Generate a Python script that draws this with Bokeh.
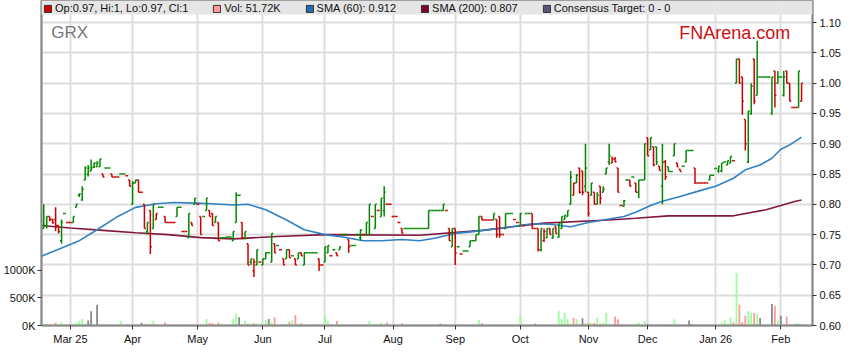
import pandas as pd
from bokeh.plotting import figure
from bokeh.models import (Range1d, LinearAxis, FixedTicker, NumeralTickFormatter,
                          BoxAnnotation, Legend, LegendItem, Label, ColumnDataSource)
from bokeh.embed import file_html
from bokeh.resources import INLINE

FONT = "Liberation Sans"
start_date = "2025-02-17"

opens = [
    .760, .760, .765, .780, .775, .775, .765, .740, .785, .770,
    .770, .770, .795, .815, .807, .840, .850, .855, .862, .862,
    .862, .850, .860, .860, .850, .845, .845, .850, .850, .847,
    .840, .800, .835, .840, .820, .800, .755, .790, .760, .775,
    .795, .795, .780, .770, .770, .770, .780, .795, .755, .755,
    .745, .770, .800, .800, .780, .780, .790, .790, .785, .770,
    .770, .745, .745, .746, .746, .740, .770, .815, .770, .745,
    .735, .705, .690, .700, .705, .700, .710, .720, .705, .735,
    .732, .725, .710, .710, .725, .715, .710, .710, .720, .700,
    .720, .720, .720, .720, .710, .700, .705, .720, .715, .725,
    .720, .725, .750, .750, .742, .732, .732, .750, .745, .750,
    .750, .750, .780, .760, .790, .780, .790, .800, .800, .780,
    .780, .770, .760, .760, .760, .760, .760, .760, .760, .760,
    .760, .760, .790, .790, .790, .790, .790, .790, .760, .730,
    .760, .730, .718, .723, .723, .730, .740, .740, .750, .780,
    .774, .774, .774, .774, .775, .780, .750, .760, .785, .785,
    .775, .770, .765, .765, .785, .785, .785, .760, .760, .725,
    .740, .745, .760, .745, .763, .746, .760, .775, .780, .800,
    .815, .835, .860, .855, .830, .820, .815, .820, .800, .830,
    .820, .850, .870, .868, .875, .860, .798, .797, .840, .840,
    .845, .835, .820, .840, .840, .910, .890, .895, .895, .863,
    .830, .870, .862, .854, .880, .868, .858, .863, .870, .889,
    .889, .860, .835, .835, .835, .835, .840, .848, .859, .855,
    .855, .870, .865, .868, .872, 1.000, 1.040, 1.010, .940, .870,
    .950, 1.040, .980, 1.010, 1.010, 1.010, 1.010, .950, 1.020, 1.000,
    1.010, .980, 1.020, 1.000, .960, .960, .960, .970,
]
highs = [
    .760, .800, .780, .780, .776, .795, .765, .775, .785, .770,
    .770, .780, .800, .818, .830, .863, .865, .874, .869, .871,
    .875, .850, .860, .860, .850, .845, .845, .850, .850, .847,
    .840, .838, .840, .840, .820, .800, .770, .790, .800, .785,
    .795, .795, .780, .770, .770, .770, .795, .795, .755, .755,
    .785, .770, .810, .800, .780, .780, .810, .790, .785, .780,
    .770, .745, .745, .746, .746, .755, .820, .815, .770, .755,
    .735, .710, .710, .725, .705, .710, .720, .720, .752, .735,
    .732, .725, .710, .725, .725, .715, .710, .720, .720, .720,
    .720, .720, .720, .720, .710, .700, .730, .732, .715, .725,
    .720, .730, .750, .750, .742, .732, .732, .750, .758, .750,
    .770, .800, .780, .800, .790, .810, .830, .800, .800, .780,
    .780, .770, .760, .760, .760, .760, .760, .760, .760, .760,
    .760, .790, .790, .790, .790, .790, .800, .790, .760, .760,
    .760, .730, .718, .723, .723, .740, .740, .750, .780, .780,
    .774, .774, .774, .785, .775, .780, .750, .785, .785, .785,
    .775, .770, .785, .765, .785, .785, .785, .760, .760, .760,
    .760, .760, .760, .760, .763, .768, .780, .782, .790, .855,
    .835, .850, .860, .855, .900, .820, .835, .820, .820, .830,
    .830, .860, .900, .879, .878, .860, .798, .807, .840, .840,
    .845, .835, .840, .840, .900, .910, .910, .895, .895, .863,
    .900, .873, .862, .854, .900, .868, .858, .863, .889, .889,
    .889, .860, .835, .835, .835, .835, .848, .848, .859, .863,
    .868, .870, .872, .879, .872, 1.040, 1.040, 1.010, .940, .954,
    1.000, 1.040, 1.070, 1.010, 1.010, 1.010, 1.010, 1.010, 1.020, 1.020,
    1.010, 1.020, 1.020, 1.000, .960, .960, 1.020, 1.000,
]
lows = [
    .760, .760, .760, .772, .768, .756, .752, .735, .785, .770,
    .770, .770, .795, .812, .806, .840, .846, .855, .860, .862,
    .862, .845, .860, .860, .845, .845, .845, .850, .850, .847,
    .830, .800, .835, .820, .820, .760, .750, .718, .760, .775,
    .795, .795, .770, .770, .770, .770, .780, .795, .755, .755,
    .745, .765, .800, .800, .750, .780, .790, .780, .765, .770,
    .740, .745, .745, .746, .746, .740, .770, .815, .742, .742,
    .700, .700, .680, .700, .705, .700, .710, .720, .705, .720,
    .732, .725, .700, .710, .712, .715, .700, .710, .715, .700,
    .720, .720, .720, .720, .690, .700, .705, .720, .715, .725,
    .715, .725, .750, .750, .720, .732, .732, .750, .740, .750,
    .750, .750, .780, .760, .790, .780, .780, .800, .800, .780,
    .780, .770, .752, .760, .760, .760, .760, .760, .760, .760,
    .760, .760, .790, .790, .790, .790, .790, .790, .740, .730,
    .700, .730, .718, .723, .723, .730, .740, .740, .750, .774,
    .774, .774, .774, .774, .745, .745, .750, .760, .785, .785,
    .775, .770, .765, .765, .785, .785, .760, .760, .722, .722,
    .738, .745, .750, .743, .752, .745, .760, .775, .780, .800,
    .815, .835, .818, .815, .820, .780, .815, .800, .800, .800,
    .820, .850, .865, .868, .870, .820, .798, .796, .840, .830,
    .845, .820, .810, .840, .840, .880, .890, .863, .865, .856,
    .800, .840, .854, .854, .880, .862, .854, .863, .870, .889,
    .889, .834, .835, .835, .835, .835, .840, .848, .859, .852,
    .853, .870, .865, .868, .872, 1.000, 1.000, .948, .889, .868,
    .948, .965, .980, 1.010, 1.010, 1.010, 1.010, .948, .960, 1.000,
    1.010, .978, 1.000, .970, .960, .960, .960, .970,
]
closes = [
    .760, .765, .780, .775, .770, .765, .755, .770, .785, .770,
    .770, .780, .800, .817, .825, .860, .860, .860, .868, .868,
    .875, .845, .860, .860, .845, .845, .845, .850, .850, .847,
    .830, .835, .840, .820, .820, .760, .770, .730, .800, .785,
    .795, .795, .770, .770, .770, .770, .795, .795, .755, .755,
    .785, .765, .810, .800, .750, .780, .810, .780, .765, .780,
    .740, .745, .745, .746, .746, .755, .815, .815, .745, .755,
    .700, .710, .705, .725, .705, .710, .720, .720, .752, .720,
    .732, .725, .700, .725, .712, .715, .700, .720, .715, .720,
    .720, .720, .720, .720, .700, .700, .730, .732, .715, .725,
    .715, .730, .750, .750, .730, .732, .732, .750, .758, .750,
    .770, .800, .780, .800, .790, .810, .820, .800, .800, .780,
    .780, .770, .752, .760, .760, .760, .760, .760, .760, .760,
    .760, .790, .790, .790, .790, .790, .800, .790, .740, .760,
    .720, .730, .718, .723, .723, .740, .740, .750, .780, .774,
    .774, .774, .774, .785, .750, .750, .750, .785, .785, .785,
    .775, .770, .785, .765, .785, .785, .760, .760, .725, .760,
    .755, .760, .750, .760, .752, .768, .780, .782, .790, .845,
    .835, .848, .820, .820, .860, .785, .835, .800, .815, .810,
    .825, .860, .880, .875, .870, .820, .798, .806, .840, .830,
    .845, .820, .840, .840, .900, .880, .910, .865, .870, .856,
    .870, .845, .854, .854, .900, .862, .854, .863, .889, .889,
    .889, .835, .835, .835, .835, .835, .848, .848, .859, .863,
    .868, .870, .872, .879, .872, 1.040, 1.000, .970, .900, .954,
    .995, .970, 1.010, 1.010, 1.010, 1.010, 1.010, 1.010, .980, 1.010,
    1.010, 1.010, 1.000, .970, .960, .960, 1.020, 1.000,
]
volume_k = [
    20, 10, 30, 15, 10, 50, 10, 60, 5, 10,
    15, 20, 50, 80, 120, 40, 90, 260, 10, 375,
    15, 10, 8, 5, 5, 3, 3, 80, 10, 3,
    5, 15, 20, 10, 50, 20, 40, 30, 90, 10,
    8, 5, 60, 5, 5, 5, 10, 5, 5, 10,
    15, 5, 15, 5, 10, 5, 120, 50, 40, 5,
    60, 20, 5, 5, 5, 120, 220, 150, 20, 85,
    30, 30, 40, 40, 20, 10, 100, 120, 60, 150,
    10, 5, 20, 30, 70, 100, 190, 30, 40, 20,
    5, 5, 5, 5, 20, 5, 190, 80, 20, 5,
    80, 25, 5, 5, 5, 5, 5, 5, 20, 5,
    5, 80, 5, 5, 5, 55, 30, 60, 5, 5,
    5, 5, 40, 5, 5, 5, 5, 5, 5, 5,
    5, 5, 5, 5, 5, 30, 5, 10, 5, 10,
    5, 30, 5, 5, 10, 5, 5, 5, 100, 40,
    5, 5, 5, 10, 5, 5, 5, 5, 10, 5,
    5, 5, 175, 5, 5, 5, 5, 30, 10, 10,
    10, 10, 5, 5, 5, 260, 120, 225, 120, 30,
    140, 120, 20, 130, 50, 50, 50, 50, 140, 30,
    55, 225, 30, 20, 165, 115, 10, 10, 10, 10,
    20, 20, 55, 10, 80, 40, 10, 10, 10, 20,
    20, 20, 20, 20, 115, 10, 10, 10, 10, 90,
    25, 20, 5, 5, 5, 5, 10, 5, 5, 5,
    55, 100, 20, 150, 60, 950, 375, 65, 175, 265,
    225, 225, 210, 135, 10, 10, 10, 390, 360, 85,
    175, 20, 165, 20, 10, 30, 40, 25,
]

sma60_day = [0, 6, 13, 19, 26, 32, 39, 45, 52, 58, 65, 70, 76, 83, 89, 96, 102, 109, 115, 122,
             128, 133, 140, 146, 153, 159, 166, 172, 179, 185, 190, 197, 201, 206, 210, 216,
             223, 228, 234, 238, 243, 247, 250, 253, 257]
sma60_val = [.714, .726, .740, .758, .780, .795, .801, .803, .802, .801, .799, .800, .791, .774,
             .758, .750, .746, .740, .740, .742, .740, .744, .752, .755, .759, .763, .768, .767,
             .763, .770, .774, .780, .787, .798, .805, .813, .823, .830, .843, .857, .865, .876,
             .891, .898, .911]
sma200_day = [0, 10, 21, 32, 43, 54, 65, 80, 96, 128, 149, 170, 192, 201, 212, 234, 245, 255, 257]
sma200_val = [.765, .761, .757, .753, .750, .745, .743, .747, .750, .749, .757, .769, .774, .777,
              .781, .781, .791, .805, .807]

price_ticks = [0.60, 0.65, 0.70, 0.75, 0.80, 0.85, 0.90, 0.95, 1.00, 1.05, 1.10]
vol_ticks = [0, 500, 1000]
vol_tick_labels = ["0K", "500K", "1000K"]
legend_labels = ["Op:0.97, Hi:1, Lo:0.97, Cl:1", "Vol: 51.72K", "SMA (60): 0.912",
                 "SMA (200): 0.807", "Consensus Target: 0 - 0"]
legend_colors = ["#cc0000", "#ff9999", "#1f6fb0", "#800033", "#55557a"]

UP, DN = "#008800", "#cc0000"
VUP, VDN, VEQ = "#99ff99", "#ff9999", "#888888"

n = len(closes)
dates = pd.bdate_range(start_date, periods=n)
xs = list(range(n))

bar_colors, vol_colors = [], []
last = UP
for i in range(n):
    ref = closes[i - 1] if i > 0 else opens[0]
    if closes[i] > ref:
        last, vc = UP, VUP
    elif closes[i] < ref:
        last, vc = DN, VDN
    else:
        vc = VEQ
    bar_colors.append(last)
    vol_colors.append(vc)

src = ColumnDataSource(dict(
    x=xs, xl=[i - 0.5 for i in xs], xr=[i + 0.5 for i in xs],
    o=opens, h=highs, l=lows, c=closes, color=bar_colors,
    vol=volume_k, vcolor=vol_colors))

# month ticks
tick_pos, tick_lab = [], []
for i in range(1, n):
    if dates[i].month != dates[i - 1].month:
        year_lab = len(tick_pos) == 0 or dates[i].month == 1
        tick_pos.append(i)
        tick_lab.append(dates[i].strftime("%b %y") if year_lab else dates[i].strftime("%b"))

p = figure(width=843, height=347, x_range=Range1d(0.23, 260.7),
           y_range=Range1d(0.60, 1.1364), y_axis_location="right",
           output_backend="svg", toolbar_location=None,
           min_border_left=26, min_border_right=28, min_border_top=0, min_border_bottom=22)
p.extra_y_ranges = {"vol": Range1d(0, 5891)}
p.outline_line_color = "#888888"
p.outline_line_width = 1.5
p.background_fill_color = "white"


def style_axis(ax):
    ax.major_label_text_font = FONT
    ax.major_label_text_font_size = "11px"
    ax.major_label_text_color = "#111111"
    ax.major_tick_out = 4
    ax.major_tick_in = 0
    ax.minor_tick_out = 0
    ax.minor_tick_in = 0
    ax.major_label_standoff = 2
    ax.axis_line_color = "#888888"
    ax.axis_line_width = 2
    ax.major_tick_line_color = "#333333"


price_axis = p.yaxis[0]
price_axis.ticker = FixedTicker(ticks=price_ticks)
price_axis.formatter = NumeralTickFormatter(format="0.00")
style_axis(price_axis)
price_axis.major_label_standoff = 3
p.ygrid[0].ticker = FixedTicker(ticks=price_ticks)

xaxis = p.xaxis[0]
xaxis.ticker = FixedTicker(ticks=tick_pos)
xaxis.major_label_overrides = {pos: lab for pos, lab in zip(tick_pos, tick_lab)}
style_axis(xaxis)
xaxis.major_label_standoff = 3
p.xgrid[0].ticker = FixedTicker(ticks=tick_pos)

for g in (p.xgrid[0], p.ygrid[0]):
    g.grid_line_color = "#dddddd"
    g.grid_line_width = 2

vol_axis = LinearAxis(y_range_name="vol", ticker=FixedTicker(ticks=vol_ticks))
vol_axis.major_label_overrides = {v: lab for v, lab in zip(vol_ticks, vol_tick_labels)}
style_axis(vol_axis)
p.add_layout(vol_axis, "left")

# volume
p.vbar(x="x", top="vol", bottom=0, width=0.6, fill_color="vcolor", line_color=None,
       y_range_name="vol", source=src)

# SMAs
p.line(sma200_day, sma200_val, line_color="#84183c", line_width=1.6)
p.line(sma60_day, sma60_val, line_color="#2f82c4", line_width=1.6)

# OHLC
p.segment(x0="x", y0="l", x1="x", y1="h", line_color="color", line_width=1.5, source=src)
p.segment(x0="xl", y0="o", x1="x", y1="o", line_color="color", line_width=1.5, source=src)
p.segment(x0="x", y0="c", x1="xr", y1="c", line_color="color", line_width=1.5, source=src)

# header strip + legend
strip = BoxAnnotation(bottom=0.60 + 310 / 604, fill_color="#e5e5e5", fill_alpha=1,
                      line_alpha=0)
p.add_layout(strip)
items = []
for lab, col in zip(legend_labels, legend_colors):
    r = p.quad(left=[-50], right=[-49], top=[0.5], bottom=[0.4], fill_color=col,
               line_color="#333333", line_width=1)
    items.append(LegendItem(label=lab, renderers=[r]))
legend = Legend(items=items, location="top_left", orientation="horizontal",
                glyph_width=9, glyph_height=9, label_standoff=3, spacing=24, padding=2,
                margin=0, label_height=10, label_text_font=FONT, label_text_font_size="11px",
                label_text_color="#111111", background_fill_alpha=0, border_line_alpha=0)
p.add_layout(legend)

# titles
p.add_layout(Label(x=3.5, y=1.083, text="GRX", text_font=FONT, text_font_size="17px",
                   text_color="#777777", text_baseline="alphabetic"))
p.add_layout(Label(x=253.2, y=1.082, text="FNArena.com", text_font=FONT,
                   text_font_size="18px", text_color="#cc1111", text_align="right",
                   text_baseline="alphabetic"))

open("out.html", "w").write(file_html(p, INLINE))
